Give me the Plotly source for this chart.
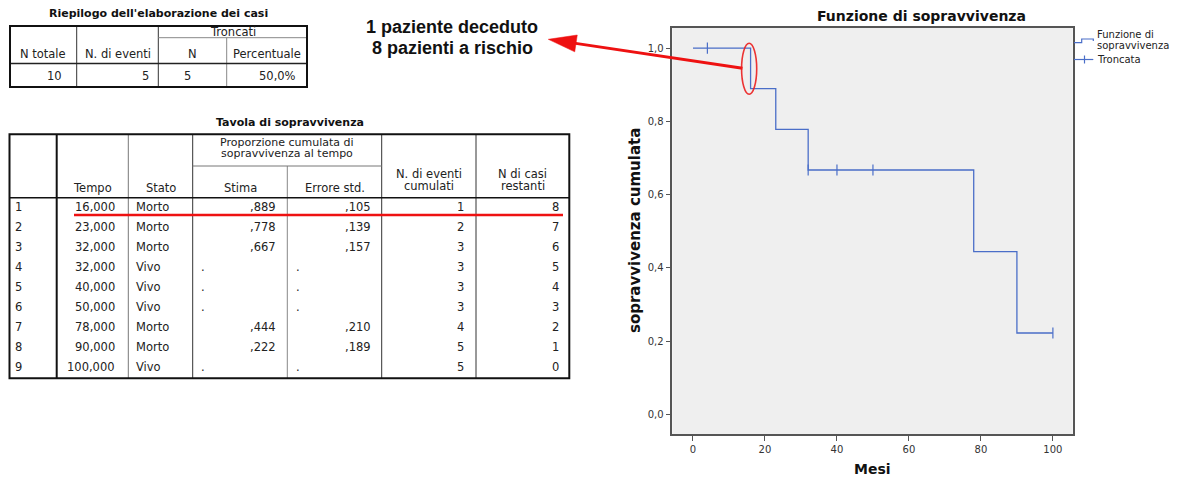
import math
import plotly.graph_objects as go

W, H = 1182, 479
FONT = "DejaVu Sans"
TS = 11.5  # table font size

# ---------------- data ----------------
t1_title = "Riepilogo dell'elaborazione dei casi"
t1_group = "Troncati"
t1_headers = ["N totale", "N. di eventi", "N", "Percentuale"]
t1_values = ["10", "5", "5", "50,0%"]

t2_title = "Tavola di sopravvivenza"
t2_group = ["Proporzione cumulata di", "sopravvivenza al tempo"]
t2_headers = ["Tempo", "Stato", "Stima", "Errore std.", "N. di eventi<br>cumulati", "N di casi<br>restanti"]
t2_rows = ["1", "2", "3", "4", "5", "6", "7", "8", "9"]
t2_tempo = ["16,000", "23,000", "32,000", "32,000", "40,000", "50,000", "78,000", "90,000", "100,000"]
t2_stato = ["Morto", "Morto", "Morto", "Vivo", "Vivo", "Vivo", "Morto", "Morto", "Vivo"]
t2_stima = [",889", ",778", ",667", ".", ".", ".", ",444", ",222", "."]
t2_err = [",105", ",139", ",157", ".", ".", ".", ",210", ",189", "."]
t2_eventi = ["1", "2", "3", "3", "3", "3", "4", "5", "5"]
t2_casi = ["8", "7", "6", "5", "4", "3", "2", "1", "0"]

km_time = [0, 16, 23, 32, 78, 90, 100]
km_surv = [1.0, 0.889, 0.778, 0.667, 0.444, 0.222, 0.222]
cens_time = [4, 32, 40, 50, 100]
cens_surv = [1.0, 0.667, 0.667, 0.667, 0.222]
x_ticks = [0, 20, 40, 60, 80, 100]
y_ticks = [0.0, 0.2, 0.4, 0.6, 0.8, 1.0]

chart_title = "Funzione di sopravvivenza"
x_title = "Mesi"
y_title = "sopravvivenza cumulata"
legend_labels = ["Funzione di<br>sopravvivenza", "Troncata"]
note_lines = ["1 paziente deceduto", "8 pazienti a rischio"]

BLUE = "#4a6ec8"
RED = "#ee1111"

# ---------------- helpers ----------------
def px(x):
    return x / W


def py(y):
    return 1 - y / H


shapes = []
annotations = []


def hline(x0, x1, y, color="#222", width=1):
    shapes.append(dict(type="line", xref="paper", yref="paper", x0=px(x0), x1=px(x1),
                       y0=py(y), y1=py(y), line=dict(color=color, width=width)))


def vline(x, y0, y1, color="#222", width=1):
    shapes.append(dict(type="line", xref="paper", yref="paper", x0=px(x), x1=px(x),
                       y0=py(y0), y1=py(y1), line=dict(color=color, width=width)))


def txt(x, y, s, anchor="center", size=TS, color="#222", family=FONT, bold=False):
    if bold:
        s = "<b>" + s + "</b>"
    annotations.append(dict(xref="paper", yref="paper", x=px(x), y=py(y), text=s,
                            showarrow=False, xanchor=anchor, yanchor="middle",
                            font=dict(family=family, size=size, color=color)))


# ---------------- table 1 ----------------
txt(158.5, 13, t1_title, bold=True, size=11, color="#111")
T1L, T1R, T1T, T1B = 10, 307, 26, 87
c1 = [76.7, 158.3, 226.7]
vline(c1[0], T1T, T1B, "#333", 1)
vline(c1[1], T1T, T1B, "#333", 1)
vline(c1[2], 37.7, T1B, "#888", 1)
hline(c1[1], T1R, 37.7, "#888", 1)
hline(T1L, T1R, 63.5, "#222", 1.5)
shapes.append(dict(type="rect", xref="paper", yref="paper", x0=px(T1L), x1=px(T1R),
                   y0=py(T1B), y1=py(T1T), line=dict(color="#111", width=2)))
txt((c1[1] + T1R) / 2, 32.3, t1_group)
h1x = [(T1L + c1[0]) / 2, (c1[0] + c1[1]) / 2, (c1[1] + c1[2]) / 2, (c1[2] + T1R) / 2]
for x, s in zip(h1x, t1_headers):
    txt(x, 54.3, s)
v1x = [64, 151, 193, 298]
for x, s in zip(v1x, t1_values):
    txt(x, 76, s, anchor="right")

# ---------------- table 2 ----------------
txt(289.5, 123, t2_title, bold=True, size=11, color="#111")
T2L, T2R, T2T, T2B = 9.5, 569.3, 134.3, 378.3
c2 = [56.7, 128.3, 192.7, 287.3, 381.7, 476]
vline(c2[0], T2T, T2B, "#111", 2)
vline(c2[1], T2T, T2B, "#777", 1)
vline(c2[2], T2T, T2B, "#333", 1)
vline(c2[3], 166, T2B, "#888", 1)
vline(c2[4], T2T, T2B, "#333", 1)
vline(c2[5], T2T, T2B, "#333", 1)
hline(c2[2], c2[4], 166, "#777", 1)
hline(T2L, T2R, 197.7, "#111", 1.5)
shapes.append(dict(type="rect", xref="paper", yref="paper", x0=px(T2L), x1=px(T2R),
                   y0=py(T2B), y1=py(T2T), line=dict(color="#111", width=2)))
txt((c2[2] + c2[4]) / 2, 142.8, t2_group[0], size=11)
txt((c2[2] + c2[4]) / 2, 153.8, t2_group[1], size=11)
hx = [(c2[0] + c2[1]) / 2, (c2[1] + c2[2]) / 2, (c2[2] + c2[3]) / 2, (c2[3] + c2[4]) / 2]
for x, s in zip(hx, t2_headers[:4]):
    txt(x, 187.5, s)
for x, s in zip([(c2[4] + c2[5]) / 2, (c2[5] + T2R) / 2], t2_headers[4:]):
    a, b = s.split("<br>")
    txt(x, 174.3, a)
    txt(x, 186, b)

ROW0, STEP = 207, 20
for i in range(len(t2_rows)):
    y = ROW0 + STEP * i
    txt(13, y, t2_rows[i], anchor="left")
    txt(117, y, t2_tempo[i], anchor="right")
    txt(133.5, y, t2_stato[i], anchor="left")
    if t2_stima[i] == ".":
        txt(199, y, t2_stima[i], anchor="left")
    else:
        txt(278, y, t2_stima[i], anchor="right")
    if t2_err[i] == ".":
        txt(294, y, t2_err[i], anchor="left")
    else:
        txt(372.5, y, t2_err[i], anchor="right")
    txt(466, y, t2_eventi[i], anchor="right")
    txt(560.5, y, t2_casi[i], anchor="right")

# red underline of row 1
hline(74, 563, 215, RED, 2.5)

# ---------------- annotation text + arrow ----------------
txt(452, 26.7, note_lines[0], size=18, bold=True, color="#111", family="Liberation Sans")
txt(452, 48.3, note_lines[1], size=18, bold=True, color="#111", family="Liberation Sans")

tip = (548.3, 39.3)
tail = (742.5, 68.3)
dx, dy = tail[0] - tip[0], tail[1] - tip[1]
L = math.hypot(dx, dy)
ux, uy = dx / L, dy / L
nx, ny = -uy, ux
hl, hw = 28, 8.5
bx, by = tip[0] + hl * ux, tip[1] + hl * uy
shapes.append(dict(type="line", xref="paper", yref="paper", x0=px(bx - 2 * ux), y0=py(by - 2 * uy),
                   x1=px(tail[0]), y1=py(tail[1]), line=dict(color=RED, width=3)))
p1 = (bx + hw * nx, by + hw * ny)
p2 = (bx - hw * nx, by - hw * ny)
path = "M {:.5f},{:.5f} L {:.5f},{:.5f} L {:.5f},{:.5f} Z".format(
    px(tip[0]), py(tip[1]), px(p1[0]), py(p1[1]), px(p2[0]), py(p2[1]))
shapes.append(dict(type="path", xref="paper", yref="paper", path=path,
                   fillcolor=RED, line=dict(color=RED, width=0.5)))

# ellipse around the first event (data coordinates)
shapes.append(dict(type="circle", xref="x", yref="y", x0=13.5, x1=17.7, y0=0.874, y1=1.013,
                   line=dict(color="rgba(235,30,30,0.9)", width=1.6)))

# ---------------- KM plot ----------------
fig = go.Figure()
fig.add_trace(go.Scatter(x=km_time, y=km_surv, mode="lines", line=dict(color=BLUE, width=1.3, shape="hv"),
                         showlegend=False, hoverinfo="skip"))
fig.add_trace(go.Scatter(x=cens_time, y=cens_surv, mode="markers",
                         marker=dict(symbol="line-ns", size=8, line=dict(color=BLUE, width=1.2)),
                         showlegend=False, hoverinfo="skip"))

PL, PR, PT, PB = 672.3, 1072.7, 27.7, 434.3

# titles
txt((PL + 1170) / 2, 16, chart_title, size=14, bold=True, color="#111")
txt((PL + PR) / 2, 469, x_title, size=14, bold=True, color="#111")
annotations.append(dict(xref="paper", yref="paper", x=px(635), y=py((PT + PB) / 2), text="<b>" + y_title + "</b>",
                        showarrow=False, textangle=-90, xanchor="center", yanchor="middle",
                        font=dict(family=FONT, size=15, color="#111")))

# legend
lg = "M {a},{b} L {c},{b} L {c},{d} L {e},{d} L {e},{f}".format(
    a=px(1074), b=py(42.7), c=px(1081.7), d=py(39), e=px(1093.3), f=py(41))
shapes.append(dict(type="path", xref="paper", yref="paper", path=lg, line=dict(color=BLUE, width=1.2)))
hline(1074, 1093.3, 59.5, BLUE, 1.2)
vline(1084.5, 55.5, 63.5, BLUE, 1.2)
a, b = legend_labels[0].split("<br>")
txt(1095, 35, a, anchor="left", size=10, color="#222")
txt(1095, 45.5, b, anchor="left", size=10, color="#222")
txt(1095, 59.5, legend_labels[1], anchor="left", size=10, color="#222")

axis_common = dict(showline=True, linecolor="#555", linewidth=1.5, mirror=True, ticks="outside",
                   ticklen=5, tickwidth=1.3, tickcolor="#555", showgrid=False, zeroline=False,
                   tickfont=dict(family=FONT, size=10, color="#333"), automargin=False, fixedrange=True)

fig.update_layout(
    width=W, height=H, autosize=False,
    margin=dict(l=0, r=0, t=0, b=0, pad=0),
    paper_bgcolor="white", plot_bgcolor="#efefef",
    separators=",.",
    xaxis=dict(domain=[px(PL), px(PR)], range=[-5.75, 105.5], tickvals=x_ticks, **axis_common),
    yaxis=dict(domain=[py(PB), py(PT)], range=[-0.0546, 1.0555], tickvals=y_ticks, tickformat=".1f",
               **axis_common),
    shapes=shapes,
    annotations=annotations,
    showlegend=False,
)

fig.write_html("out.html", config={"displayModeBar": False},
               post_script="document.body.style.margin='0px';document.body.style.overflow='hidden';")
